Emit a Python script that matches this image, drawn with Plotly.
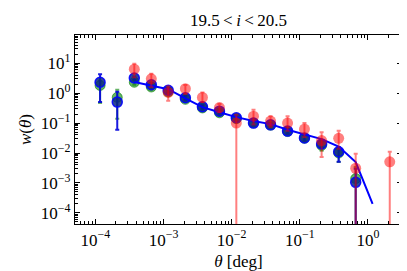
import plotly.graph_objects as go

# bin centres (deg)
theta = [1.17e-4, 2.09e-4, 3.72e-4, 6.61e-4, 1.17e-3, 2.09e-3, 3.72e-3, 6.61e-3,
         1.17e-2, 2.09e-2, 3.72e-2, 6.61e-2, 1.17e-1, 2.09e-1, 3.72e-1, 6.61e-1,
         1.17e0, 2.09e0]

FLOOR = 1e-7  # error bars that reach to zero / below

# green sample
g_x = theta[0:16]
g_y = [1.8, 0.72, 2.3, 1.6, 1.1, 0.62, 0.32, 0.22, 0.14, 0.10, 0.085, 0.052, 0.031, 0.018, 0.010, 0.0014]
g_hi = [2.6, 1.3, 2.7, 1.9, 1.3, 0.72, 0.37, 0.26, 0.17, 0.12, 0.10, 0.062, 0.038, 0.024, 0.015, 0.0034]
g_lo = [0.47, 0.14, 1.9, 1.3, 0.9, 0.52, 0.27, 0.18, 0.11, 0.08, 0.07, 0.042, 0.024, 0.012, 0.005, FLOOR]

# blue sample
b_x = theta[0:16]
b_y = [2.3, 0.5, 3.2, 1.9, 1.25, 0.7, 0.35, 0.25, 0.15, 0.10, 0.087, 0.054, 0.032, 0.020, 0.011, 0.00105]
b_hi = [4.3, 1.1, 3.6, 2.2, 1.45, 0.8, 0.40, 0.29, 0.18, 0.12, 0.10, 0.064, 0.039, 0.026, 0.016, 0.003]
b_lo = [0.5, 0.06, 2.8, 1.6, 1.05, 0.6, 0.30, 0.21, 0.12, 0.085, 0.075, 0.045, 0.026, 0.015, 0.0051, FLOOR]

# red sample
r_x = theta[2:16] + [theta[17]]
r_y = [6.3, 3.0, 1.05, 1.4, 0.72, 0.33, 0.10, 0.17, 0.117, 0.10, 0.063, 0.026, 0.031, 0.0031, 0.0051]
r_hi = [9.6, 4.4, 1.7, 1.85, 1.05, 0.43, 0.19, 0.28, 0.17, 0.17, 0.10, 0.049, 0.055, 0.0095, 0.011]
r_lo = [3.4, 1.6, 0.56, 0.93, 0.5, 0.23, FLOOR, 0.09, 0.074, 0.055, 0.034, 0.0074, 0.014, FLOOR, FLOOR]

# model line
m_x = theta[2:17]
m_y = [2.35, 1.74, 1.35, 0.67, 0.34, 0.23, 0.158, 0.118, 0.092, 0.060, 0.043, 0.029, 0.0165, 0.0050, 0.0002]

# tick labels
x_tickvals = [1e-4, 1e-3, 1e-2, 1e-1, 1e0]
x_ticktext = ["10<sup>−4</sup>", "10<sup>−3</sup>", "10<sup>−2</sup>", "10<sup>−1</sup>", "10<sup>0</sup>"]
y_tickvals = [1e-4, 1e-3, 1e-2, 1e-1, 1e0, 1e1]
y_ticktext = ["10<sup>−4</sup>", "10<sup>−3</sup>", "10<sup>−2</sup>", "10<sup>−1</sup>", "10<sup>0</sup>", "10<sup>1</sup>"]


def errs(y, hi, lo):
    return [h - v for v, h in zip(y, hi)], [v - l for v, l in zip(y, lo)]


fig = go.Figure()

gp, gm = errs(g_y, g_hi, g_lo)
fig.add_trace(go.Scatter(
    x=g_x, y=g_y, mode="markers",
    marker=dict(size=10, color="rgba(0,128,0,0.6)", line=dict(color="rgba(0,128,0,0.6)", width=1)),
    error_y=dict(type="data", array=gp, arrayminus=gm, color="rgba(0,128,0,0.6)", thickness=2, width=2),
    showlegend=False))

bp, bm = errs(b_y, b_hi, b_lo)
fig.add_trace(go.Scatter(
    x=b_x, y=b_y, mode="markers",
    marker=dict(size=10, color="rgba(10,40,130,0.85)", line=dict(color="rgba(0,0,255,0.9)", width=1.5)),
    error_y=dict(type="data", array=bp, arrayminus=bm, color="rgba(0,0,220,0.9)", thickness=2, width=2),
    showlegend=False))

fig.add_trace(go.Scatter(
    x=m_x, y=m_y, mode="lines",
    line=dict(color="#0000ff", width=2),
    showlegend=False))

rp, rm = errs(r_y, r_hi, r_lo)
fig.add_trace(go.Scatter(
    x=r_x, y=r_y, mode="markers",
    marker=dict(size=11, color="rgba(255,0,0,0.5)", line=dict(width=0)),
    error_y=dict(type="data", array=rp, arrayminus=rm, color="rgba(255,0,0,0.5)", thickness=2, width=2),
    showlegend=False))

font = "Times New Roman, Liberation Serif, serif"
axis_common = dict(
    type="log", showgrid=False, zeroline=False,
    showline=True, linecolor="black", linewidth=1.2, mirror="allticks",
    ticks="inside", ticklen=5, tickcolor="black", tickwidth=1,
    minor=dict(ticks="inside", ticklen=2.5, tickcolor="black", dtick="D1"),
    tickfont=dict(family=font, size=17, color="black"),
)

fig.update_xaxes(**axis_common, range=[-4.30, 0.50],
                 tickmode="array", tickvals=x_tickvals, ticktext=x_ticktext,
                 title=dict(text="<i>θ</i> [deg]", font=dict(family=font, size=17, color="black"), standoff=6))
fig.update_yaxes(**axis_common, range=[-4.37, 1.94],
                 tickmode="array", tickvals=y_tickvals, ticktext=y_ticktext,
                 title=dict(text="<i>w</i>(<i>θ</i>)", font=dict(family=font, size=17, color="black"), standoff=4))

fig.update_layout(
    width=407, height=271,
    margin=dict(l=67, r=12, t=27, b=50),
    paper_bgcolor="white", plot_bgcolor="white",
    font=dict(family=font, size=17, color="black"),
    title=dict(text="19.5\u2009&lt;\u2009<i>i</i>\u2009&lt;\u200920.5", x=0.5, xanchor="center", xref="paper",
               y=0.955, yanchor="middle", font=dict(family=font, size=17, color="black")),
)

fig.write_html("out.html")
